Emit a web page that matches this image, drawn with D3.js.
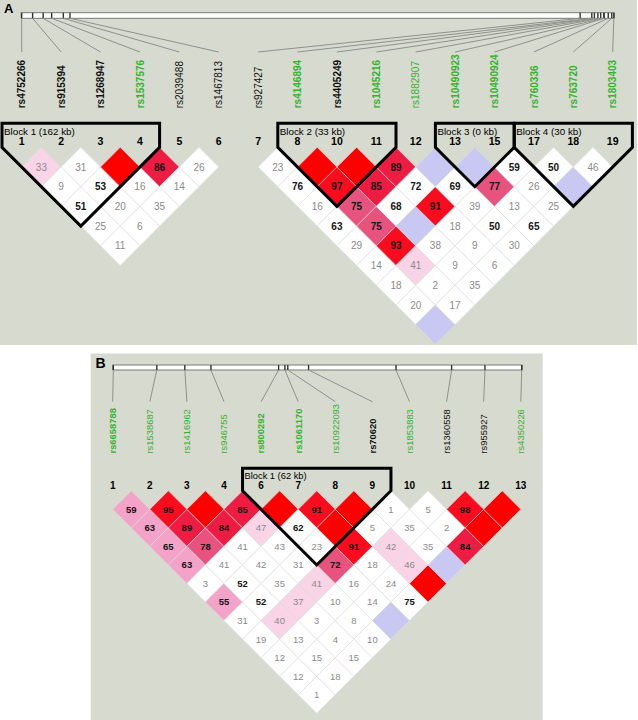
<!DOCTYPE html>
<html lang="en">
<head>
<meta charset="UTF-8">
<title>LD plots</title>
<script src="https://d3js.org/d3.v7.min.js"></script>
<style>
  body { margin: 0; padding: 0; background: #fff; }
  svg { display: block; font-family: "Liberation Sans", Arial, sans-serif; }
</style>
</head>
<body>
<svg id="chart" width="638" height="720"></svg>
<script>
// ---------- panel A ----------
const numbersA = [1, 2, 3, 4, 5, 6, 7, 8, 10, 11, 12, 13, 15, 17, 18, 19];
const snpsA = ["rs4752266", "rs915394", "rs1268947", "rs1537576", "rs2039488", "rs1467813",
  "rs927427", "rs4146894", "rs4405249", "rs1045216", "rs1882907", "rs10490923",
  "rs10490924", "rs760336", "rs763720", "rs1803403"];
const greenA = [0, 0, 0, 1, 0, 0, 0, 1, 0, 1, 1, 1, 1, 1, 1, 1];
const boldA = [1, 1, 1, 1, 0, 0, 0, 1, 1, 1, 0, 1, 1, 1, 1, 1];
const kbA = [0, 59, 116, 162, 225, 261, 3020, 3083, 3097, 3116, 3131, 3149, 3149, 3172, 3191, 3202];

// D' x 100, row k = pairs (k, k+1..)
const dprimeA1 = [
  [33, 9, 51, 25, 11],
  [31, 53, 20, 6],
  [100, 16, 35],
  [86, 14],
  [26]
];
const strongA1 = [
  [1, 0, 0, 0, 0],
  [0, 0, 0, 0],
  [1, 0, 0],
  [1, 0],
  [0]
];
const dprimeA2 = [
  [23, 76, 16, 63, 29, 14, 18, 20, 100],
  [100, 97, 75, 75, 93, 41, 2, 17],
  [100, 85, 68, 100, 38, 9, 35],
  [89, 72, 91, 18, 9, 6],
  [100, 69, 39, 50, 30],
  [100, 77, 13, 65],
  [59, 26, 25],
  [50, 100],
  [46]
];
const strongA2 = [
  [0, 0, 0, 0, 0, 0, 0, 0, 0],
  [1, 1, 1, 1, 1, 1, 0, 0],
  [1, 1, 0, 0, 0, 0, 0],
  [1, 0, 1, 0, 0, 0],
  [0, 0, 0, 0, 0],
  [0, 1, 0, 0],
  [0, 0, 0],
  [0, 0],
  [0]
];
const blocksA = [
  { label: "Block 1 (162 kb)", from: 0, to: 3 },
  { label: "Block 2 (33 kb)", from: 7, to: 9 },
  { label: "Block 3 (0 kb)", from: 11, to: 12 },
  { label: "Block 4 (30 kb)", from: 13, to: 15 }
];

// ---------- panel B ----------
const numbersB = [1, 2, 3, 4, 6, 7, 8, 9, 10, 11, 12, 13];
const snpsB = ["rs6658788", "rs1538687", "rs1416962", "rs946755", "rs800292", "rs1061170",
  "rs10922093", "rs70620", "rs1853883", "rs1360558", "rs955927", "rs4350226"];
const greenB = [1, 1, 1, 1, 1, 1, 1, 0, 1, 0, 0, 1];
const boldB = [1, 0, 0, 0, 1, 1, 0, 1, 0, 0, 0, 0];
const kbB = [0, 90, 148, 202, 342, 355, 361, 404, 585, 700, 769, 845];

const dprimeB = [
  [59, 63, 65, 63, 3, 55, 31, 19, 12, 12, 1],
  [95, 89, 78, 41, 52, 52, 40, 13, 15, 18],
  [100, 84, 41, 42, 35, 37, 3, 4, 15],
  [85, 47, 43, 31, 41, 10, 8, 10],
  [100, 62, 23, 72, 16, 14, 100],
  [91, 100, 91, 18, 24, 75],
  [100, 5, 42, 46, 100],
  [1, 35, 35, 100],
  [5, 2, 84],
  [98, 100],
  [100]
];
const strongB = [
  [1, 1, 1, 1, 0, 1, 0, 0, 0, 0, 0],
  [1, 1, 1, 0, 0, 0, 1, 0, 0, 0],
  [1, 1, 0, 0, 0, 1, 0, 0, 0],
  [1, 1, 0, 0, 1, 0, 0, 0],
  [1, 0, 0, 1, 0, 0, 0],
  [1, 1, 1, 0, 0, 0],
  [1, 0, 1, 1, 1],
  [0, 0, 0, 0],
  [0, 0, 1],
  [1, 1],
  [1]
];
const blocksB = [{ label: "Block 1 (62 kb)", from: 4, to: 7 }];

// colours for strong LD, by D'
const strongColor = d3.scaleThreshold()
  .domain([50, 70, 80, 90, 100])
  .range(["#f9d3e6", "#f3a3c7", "#e8527f", "#ee1c42", "#f80c1e", "#ff0000"]);

function cellFill(d) {
  if (d.strong) return strongColor(d.v);
  return d.v >= 100 ? "#c8c8f2" : "#ffffff";
}

const svg = d3.select("#chart");

function drawPanel(p) {
  const g = svg.append("g");
  const n = p.numbers.length;
  const h = p.step / 2;
  const x = d3.scaleLinear().domain([0, n - 1]).range([p.x0, p.x0 + (n - 1) * p.step]);
  const pos = d3.scaleLinear().domain(d3.extent(p.kb)).range(p.barRange);

  g.append("rect")
    .attr("x", p.bg[0]).attr("y", p.bg[1])
    .attr("width", p.bg[2]).attr("height", p.bg[3])
    .attr("fill", "#d6dacf");

  g.append("text")
    .attr("x", p.letterX).attr("y", p.letterY)
    .attr("font-size", p.letterSize).attr("font-weight", "bold")
    .text(p.letter);

  // chromosome bar
  g.append("rect")
    .attr("x", p.barRange[0] - 0.5).attr("y", p.barY)
    .attr("width", p.barRange[1] - p.barRange[0] + 1).attr("height", p.barH)
    .attr("fill", "#fff").attr("stroke", "#7a7a7a").attr("stroke-width", 1);

  g.selectAll(null).data(p.kb).join("line")
    .attr("x1", d => pos(d)).attr("x2", d => pos(d))
    .attr("y1", p.barY).attr("y2", p.barY + p.barH)
    .attr("stroke", "#333").attr("stroke-width", 1.4);

  g.selectAll(null).data(p.kb).join("line")
    .attr("x1", d => pos(d)).attr("y1", p.barY + p.barH)
    .attr("x2", (d, i) => x(i)).attr("y2", p.lineEnd)
    .attr("stroke", "#8e928a").attr("stroke-width", 1);

  // snp names
  g.selectAll(null).data(p.snps).join("text")
    .attr("transform", (d, i) => `translate(${x(i)},${p.labelBase}) rotate(-90)`)
    .attr("dy", "0.36em")
    .attr("font-size", p.labelSize)
    .attr("font-weight", (d, i) => p.bold[i] ? "bold" : "normal")
    .attr("fill", (d, i) => p.green[i] ? "#35b22e" : "#111")
    .text(d => d);

  // LD cells
  const cells = [];
  p.triangles.forEach(t => {
    t.dprime.forEach((row, k) => {
      row.forEach((v, m) => {
        const i = t.start + k, j = t.start + k + 1 + m;
        cells.push({ i, j, v, strong: t.strong[k][m] === 1 });
      });
    });
  });
  const cx = d => (x(d.i) + x(d.j)) / 2;
  const cy = d => p.vtop + h * (d.j - d.i);

  g.selectAll(null).data(cells).join("path")
    .attr("d", d => {
      const X = cx(d), Y = cy(d);
      return `M${X},${Y - h}L${X + h},${Y}L${X},${Y + h}L${X - h},${Y}Z`;
    })
    .attr("fill", cellFill)
    .attr("stroke", "#dedede").attr("stroke-width", 0.6);

  g.selectAll(null).data(cells.filter(d => d.v < 100)).join("text")
    .attr("x", cx).attr("y", cy)
    .attr("dy", "0.36em")
    .attr("text-anchor", "middle")
    .attr("font-size", p.cellSize)
    .attr("font-weight", d => d.v >= 50 ? "bold" : "normal")
    .attr("fill", d => d.v >= 50 ? "#151515" : "#8a8a8a")
    .text(d => d.v);

  // haplotype blocks
  g.selectAll(null).data(p.blocks).join("path")
    .attr("d", b => {
      const xl = x(b.from) - h, xr = x(b.to) + h;
      const xb = (x(b.from) + x(b.to)) / 2;
      const yb = p.vtop + h * (b.to - b.from + 1);
      return `M${xl},${p.blockTop}L${xr},${p.blockTop}L${xr},${p.vtop}L${xb},${yb}L${xl},${p.vtop}Z`;
    })
    .attr("fill", "none").attr("stroke", "#000")
    .attr("stroke-width", 3).attr("stroke-linejoin", "miter");

  g.selectAll(null).data(p.blocks).join("text")
    .attr("x", b => x(b.from) - h + 2)
    .attr("y", p.blockLabelY)
    .attr("font-size", p.blockSize)
    .text(b => b.label);

  // marker numbers
  g.selectAll(null).data(p.numbers).join("text")
    .attr("x", (d, i) => x(i)).attr("y", p.numY)
    .attr("text-anchor", "middle")
    .attr("font-size", p.numSize).attr("font-weight", "bold")
    .text(d => d);
}

drawPanel({
  letter: "A", letterX: 4, letterY: 12.5, letterSize: 13,
  bg: [0, 0, 637, 345],
  numbers: numbersA, snps: snpsA, green: greenA, bold: boldA, kb: kbA,
  x0: 21.7, step: 39.4, vtop: 147.3,
  barRange: [21.7, 613.8], barY: 12.7, barH: 5.6, lineEnd: 52, labelBase: 108.3,
  labelSize: 10, cellSize: 10, blockSize: 9.8, numSize: 10.5,
  blockTop: 123.3, blockLabelY: 134.5, numY: 145.3,
  triangles: [
    { start: 0, dprime: dprimeA1, strong: strongA1 },
    { start: 6, dprime: dprimeA2, strong: strongA2 }
  ],
  blocks: blocksA
});

drawPanel({
  letter: "B", letterX: 95.5, letterY: 368.3, letterSize: 14,
  bg: [90.7, 353.5, 452, 366.5],
  numbers: numbersB, snps: snpsB, green: greenB, bold: boldB, kb: kbB,
  x0: 112.7, step: 37.1, vtop: 490.75,
  barRange: [113.3, 521.7], barY: 365, barH: 5, lineEnd: 401.7, labelBase: 453.5,
  labelSize: 9.4, cellSize: 9.5, blockSize: 9.3, numSize: 10,
  blockTop: 468.3, blockLabelY: 479, numY: 488.6,
  triangles: [
    { start: 0, dprime: dprimeB, strong: strongB }
  ],
  blocks: blocksB
});
</script>
</body>
</html>
